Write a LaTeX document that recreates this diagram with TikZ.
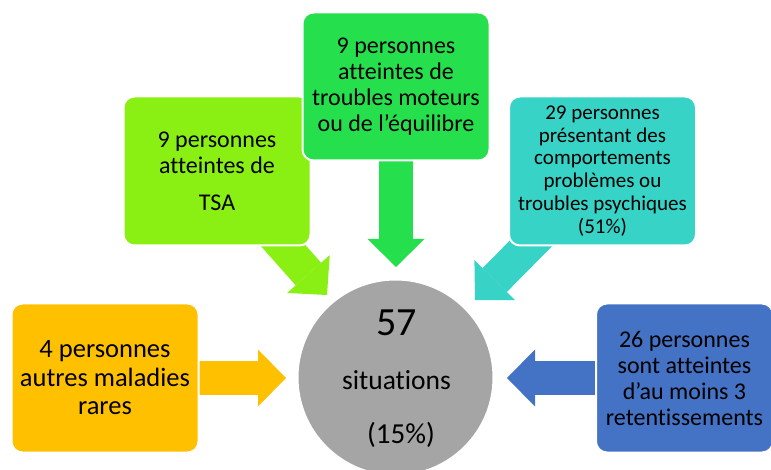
\documentclass[tikz,border=0pt]{standalone}
\usepackage{fontspec}
\setmainfont[Ligatures=NoCommon]{Carlito}
\usepackage{xcolor}
\definecolor{grpgreen}{HTML}{25E04C}
\definecolor{grplime}{HTML}{8AEF12}
\definecolor{grpteal}{HTML}{36D3C6}
\definecolor{grpgold}{HTML}{FFC000}
\definecolor{grpblue}{HTML}{4472C4}
\definecolor{grpgrey}{HTML}{A5A5A5}
\usetikzlibrary{arrows.meta,backgrounds}
\newcommand{\fs}[2]{\fontsize{#1}{#2}\selectfont}
\tikzset{
  gbox/.style ={rectangle, rounded corners=11pt, draw=white, line width=2pt,
                align=center, inner sep=0pt, minimum width=187pt, minimum height=149pt},
  tot/.style  ={circle, fill=grpgrey, draw=white, line width=2pt, minimum size=196pt},
  big/.style  ={line width=34pt, -{Triangle[length=28pt, width=57pt, line width=0pt]}},
  num/.style  ={anchor=base, inner sep=0pt},
}

\begin{document}
\begin{tikzpicture}[x=1pt, y=-1pt]
  \path[use as bounding box] (0,0) rectangle (771,470);
  \node[gbox, fill=grplime, font=\fs{24}{26}] (tsa) at (217,171) {9 personnes\\atteintes de\\[11pt]TSA};
  \node[gbox, fill=grpteal, font=\fs{21}{22.8}] (psy) at (602.5,171) {29 personnes\\présentant des\\comportements\\problèmes ou\\troubles psychiques\\(51\%)};
  \node[gbox, fill=grpgreen, minimum height=148pt, font=\fs{24}{26}] (mot) at (396,86.5) {9 personnes\\atteintes de\\troubles moteurs\\ou de l’équilibre};
  \node[gbox, fill=grpgold, font=\fs{26.5}{28.5}] (rare) at (105,378) {4 personnes\\autres maladies\\rares};
  \node[gbox, fill=grpblue, minimum width=177pt, font=\fs{24}{26}] (ret) at (684.5,378) {26 personnes\\sont atteintes\\d’au moins 3\\retentissements};
  \node[tot] (all) at (395.5,377.5) {};
  \node[num, font=\fs{40}{40}] (n57) at (396.5,335) {57};
  \node[num, font=\fs{27.5}{30}] (sit) at (396.5,389) {situations};
  \node[num, font=\fs{29}{30}] (pct) at (401,443) {(15\%)};

  \coordinate (tsatip) at (327,295);
  \coordinate (mottip) at (396,267);
  \coordinate (psytip) at (475,300);
  \coordinate (raretip) at (286,378);
  \coordinate (rettip) at (507,378);
  \begin{scope}[on background layer]
    \draw[big, grplime]  (tsa.center)  -- (tsatip);
    \draw[big, grpgreen] (mot.center)  -- (mottip);
    \draw[big, grpteal]  (psy.center)  -- (psytip);
    \draw[big, grpgold]  (rare.center) -- (raretip);
    \draw[big, grpblue]  (ret.center)  -- (rettip);
  \end{scope}
\end{tikzpicture}
\end{document}
